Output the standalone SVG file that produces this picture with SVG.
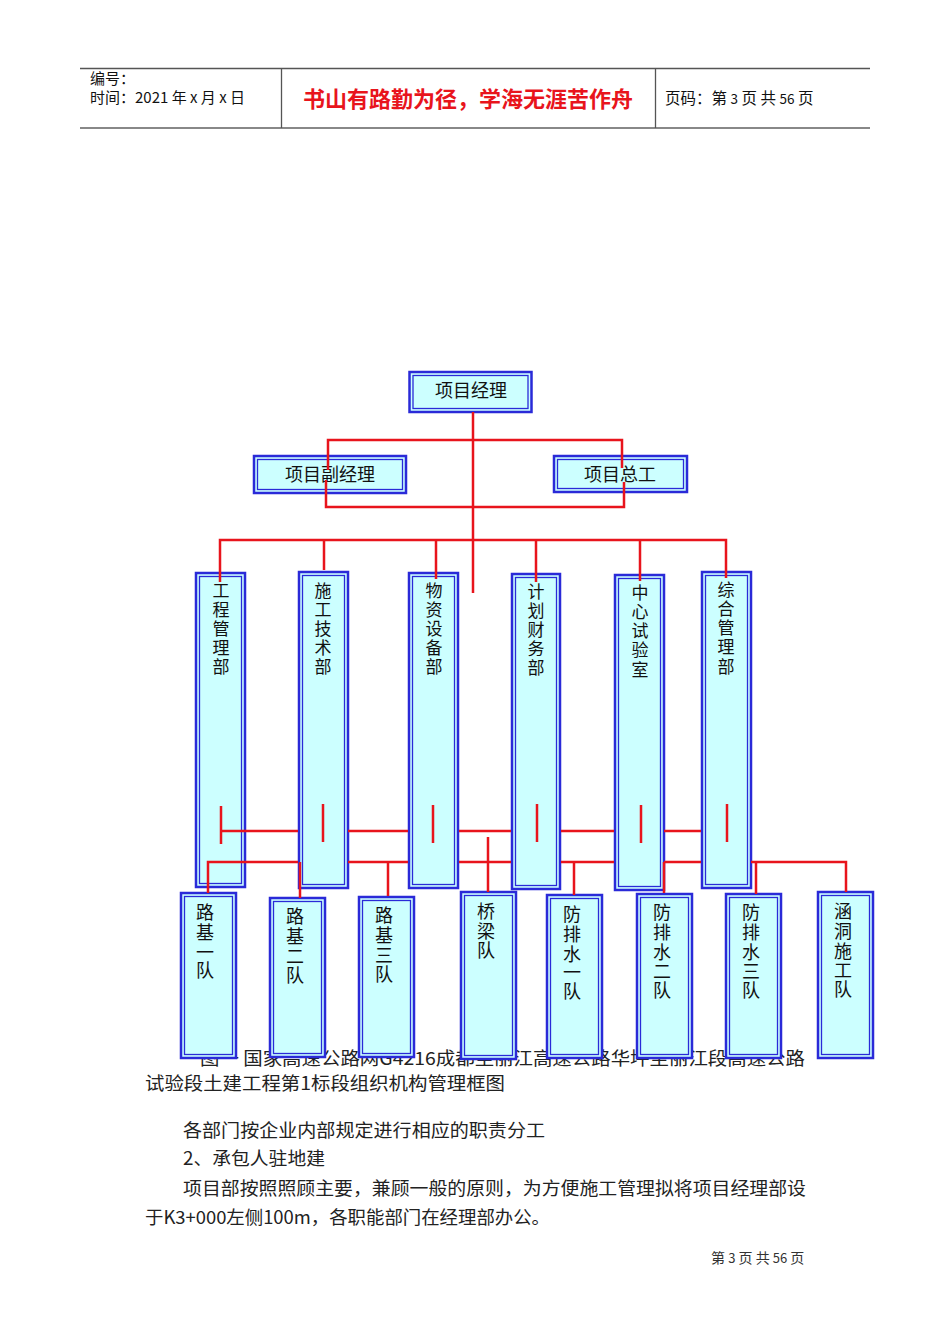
<svg xmlns="http://www.w3.org/2000/svg" width="950" height="1344" viewBox="0 0 950 1344">
<style>
.bx{fill:#ccffff;stroke:#2a2ad8;stroke-width:2.5}
.bi{fill:none;stroke:#2a2ad8;stroke-width:1.3}
.ln{stroke:#e8141c;stroke-width:2.5;fill:none;stroke-linecap:butt}
.t{font-family:"Noto Sans CJK SC","Noto Sans",sans-serif;fill:#111}
.vt{font-family:"Noto Sans CJK SC",sans-serif;font-size:17px;fill:#111;text-anchor:middle}
.vb{font-family:"Noto Sans CJK SC",sans-serif;font-size:18px;fill:#111;text-anchor:middle}
.body{font-family:"Noto Sans CJK SC",sans-serif;font-size:18px;fill:#222}
.hd{stroke:#555;stroke-width:1.3}
</style>
<rect width="950" height="1344" fill="#fff"/>
<g id="header">
<line class="hd" x1="80" y1="68.5" x2="870" y2="68.5"/>
<line x1="80" y1="128" x2="870" y2="128" stroke="#888" stroke-width="2"/>
<line class="hd" x1="281.5" y1="68" x2="281.5" y2="128"/>
<line class="hd" x1="655.5" y1="68" x2="655.5" y2="128"/>
<text class="t" x="90" y="84" font-size="15">编号：</text>
<text class="t" x="90" y="103" font-size="15">时间：2021 年 x 月 x 日</text>
<text class="t" x="468" y="107" font-size="22" font-weight="bold" style="fill:#e8141c" text-anchor="middle">书山有路勤为径，学海无涯苦作舟</text>
<text class="t" x="665" y="104" font-size="15.5">页码：第 <tspan font-size="13.5">3</tspan> 页 共 <tspan font-size="13.5">56</tspan> 页</text>
</g>
<g id="caption">
<text class="body" x="200" y="1065" textLength="605" lengthAdjust="spacingAndGlyphs">图一  国家高速公路网G4216成都至丽江高速公路华坪至丽江段高速公路</text>
<text class="body" x="145" y="1090" textLength="360" lengthAdjust="spacingAndGlyphs">试验段土建工程第1标段组织机构管理框图</text>
</g>
<g id="n-pm"><rect class="bx" x="409.5" y="372" width="122" height="40"/><rect class="bi" x="413" y="375.5" width="115" height="33"/><text class="t" x="471" y="397" font-size="18" text-anchor="middle">项目经理</text></g>
<g id="n-dpm"><rect class="bx" x="254" y="456" width="152" height="37"/><rect class="bi" x="257.5" y="459.5" width="145" height="30"/><text class="t" x="330" y="481" font-size="18" text-anchor="middle">项目副经理</text></g>
<g id="n-ce"><rect class="bx" x="554" y="456" width="133" height="36"/><rect class="bi" x="557.5" y="459.5" width="126" height="29"/><text class="t" x="620" y="481" font-size="18" text-anchor="middle">项目总工</text></g>
<g id="d1"><rect class="bx" x="196" y="573" width="49" height="314"/><rect class="bi" x="199.5" y="576.5" width="42" height="307"/><text class="vt"><tspan x="221" y="597">工</tspan><tspan x="221" y="616">程</tspan><tspan x="221" y="635">管</tspan><tspan x="221" y="654">理</tspan><tspan x="221" y="673">部</tspan></text></g>
<g id="d2"><rect class="bx" x="299" y="572" width="49" height="316"/><rect class="bi" x="302.5" y="575.5" width="42" height="309"/><text class="vt"><tspan x="323" y="597">施</tspan><tspan x="323" y="616">工</tspan><tspan x="323" y="635">技</tspan><tspan x="323" y="654">术</tspan><tspan x="323" y="673">部</tspan></text></g>
<g id="d3"><rect class="bx" x="409" y="573" width="49" height="315"/><rect class="bi" x="412.5" y="576.5" width="42" height="308"/><text class="vt"><tspan x="434" y="597">物</tspan><tspan x="434" y="616">资</tspan><tspan x="434" y="635">设</tspan><tspan x="434" y="654">备</tspan><tspan x="434" y="673">部</tspan></text></g>
<g id="d4"><rect class="bx" x="512" y="574" width="48" height="315"/><rect class="bi" x="515.5" y="577.5" width="41" height="308"/><text class="vt"><tspan x="536" y="598">计</tspan><tspan x="536" y="617">划</tspan><tspan x="536" y="636">财</tspan><tspan x="536" y="655">务</tspan><tspan x="536" y="674">部</tspan></text></g>
<g id="d5"><rect class="bx" x="615" y="575" width="49" height="315"/><rect class="bi" x="618.5" y="578.5" width="42" height="308"/><text class="vt"><tspan x="640" y="599">中</tspan><tspan x="640" y="618">心</tspan><tspan x="640" y="637">试</tspan><tspan x="640" y="656">验</tspan><tspan x="640" y="676">室</tspan></text></g>
<g id="d6"><rect class="bx" x="702" y="572" width="49" height="316"/><rect class="bi" x="705.5" y="575.5" width="42" height="309"/><text class="vt"><tspan x="726" y="596">综</tspan><tspan x="726" y="615">合</tspan><tspan x="726" y="634">管</tspan><tspan x="726" y="653">理</tspan><tspan x="726" y="673">部</tspan></text></g>
<g id="t1"><rect class="bx" x="181" y="893" width="55" height="165"/><rect class="bi" x="184.5" y="896.5" width="48" height="158"/><text class="vb"><tspan x="205" y="919">路</tspan><tspan x="205" y="939">基</tspan><tspan x="205" y="959">一</tspan><tspan x="205" y="977">队</tspan></text></g>
<g id="t2"><rect class="bx" x="270" y="898" width="55" height="159"/><rect class="bi" x="273.5" y="901.5" width="48" height="152"/><text class="vb"><tspan x="295" y="923">路</tspan><tspan x="295" y="943">基</tspan><tspan x="295" y="963">二</tspan><tspan x="295" y="982">队</tspan></text></g>
<g id="t3"><rect class="bx" x="359" y="897" width="55" height="160"/><rect class="bi" x="362.5" y="900.5" width="48" height="153"/><text class="vb"><tspan x="384" y="922">路</tspan><tspan x="384" y="942">基</tspan><tspan x="384" y="962">三</tspan><tspan x="384" y="981">队</tspan></text></g>
<g id="t4"><rect class="bx" x="461" y="892" width="55" height="167"/><rect class="bi" x="464.5" y="895.5" width="48" height="160"/><text class="vb"><tspan x="486" y="918">桥</tspan><tspan x="486" y="938">梁</tspan><tspan x="486" y="957">队</tspan></text></g>
<g id="t5"><rect class="bx" x="547" y="895" width="55" height="163"/><rect class="bi" x="550.5" y="898.5" width="48" height="156"/><text class="vb"><tspan x="572" y="921">防</tspan><tspan x="572" y="941">排</tspan><tspan x="572" y="961">水</tspan><tspan x="572" y="979">一</tspan><tspan x="572" y="998">队</tspan></text></g>
<g id="t6"><rect class="bx" x="637" y="894" width="55" height="164"/><rect class="bi" x="640.5" y="897.5" width="48" height="157"/><text class="vb"><tspan x="662" y="919">防</tspan><tspan x="662" y="939">排</tspan><tspan x="662" y="959">水</tspan><tspan x="662" y="978">二</tspan><tspan x="662" y="997">队</tspan></text></g>
<g id="t7"><rect class="bx" x="726" y="894" width="55" height="164"/><rect class="bi" x="729.5" y="897.5" width="48" height="157"/><text class="vb"><tspan x="751" y="919">防</tspan><tspan x="751" y="939">排</tspan><tspan x="751" y="959">水</tspan><tspan x="751" y="978">三</tspan><tspan x="751" y="997">队</tspan></text></g>
<g id="t8"><rect class="bx" x="818" y="892" width="55" height="166"/><rect class="bi" x="821.5" y="895.5" width="48" height="159"/><text class="vb"><tspan x="843" y="918">涵</tspan><tspan x="843" y="938">洞</tspan><tspan x="843" y="958">施</tspan><tspan x="843" y="977">工</tspan><tspan x="843" y="996">队</tspan></text></g>
<g id="connectors" class="ln">
<path d="M473 412V593"/>
<path d="M328 470V440H622V468"/>
<path d="M326 480V507H624V482"/>
<path d="M220 582V540H726V578"/>
<path d="M324 540V570M436 540V579M536 540V582M640 540V581"/>
<path d="M221 806V844M323 804V842M433 805V843M537 804V842M641 805V843M727 804V842"/>
<path d="M221 831H298M348 831H408M459 831H511M561 831H614M664 831H701"/>
<path d="M208 893V862H298M300 862V898M348 862H408M388 862V896M459 862H511M488 837V892M561 862H614M574 862V895M664 862H701M664 862V893M751 862H846V892M756 862V894"/>
</g>
<g id="body">
<text class="body" x="183" y="1137" textLength="362" lengthAdjust="spacingAndGlyphs">各部门按企业内部规定进行相应的职责分工</text>
<text class="body" x="183" y="1165" textLength="142" lengthAdjust="spacingAndGlyphs">2、承包人驻地建</text>
<text class="body" x="183" y="1195" textLength="623" lengthAdjust="spacingAndGlyphs">项目部按照照顾主要，兼顾一般的原则，为方便施工管理拟将项目经理部设</text>
<text class="body" x="145" y="1224" textLength="405" lengthAdjust="spacingAndGlyphs">于K3+000左侧100m，各职能部门在经理部办公。</text>
<text class="t" x="711" y="1263" font-size="14" style="fill:#333">第 <tspan font-size="13">3</tspan> 页 共 <tspan font-size="13">56</tspan> 页</text>
</g>
</svg>
